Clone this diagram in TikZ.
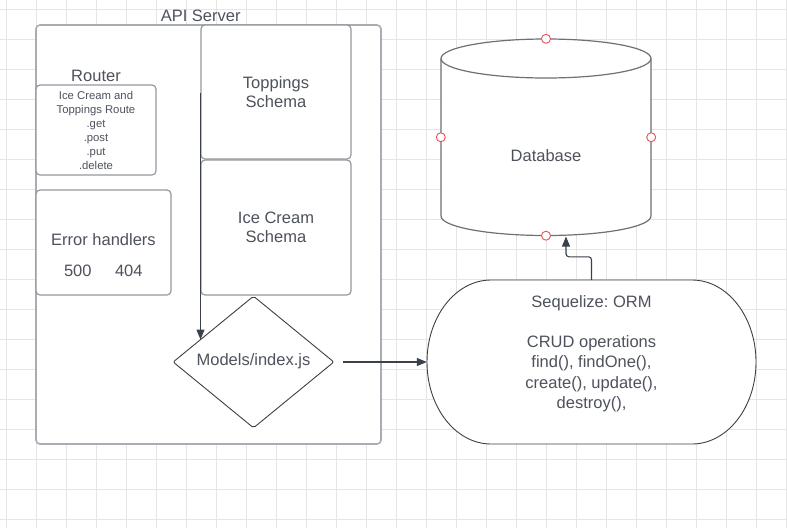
\documentclass[tikz,border=0pt]{standalone}
\usepackage{fontspec}
\setmainfont{Liberation Sans}
\frenchspacing
\usetikzlibrary{shapes.geometric,arrows.meta}
\definecolor{gridc}{RGB}{229,229,229}
\definecolor{textc}{RGB}{78,82,92}
\definecolor{boxc}{RGB}{150,152,160}
\definecolor{outerc}{RGB}{170,172,180}
\definecolor{darkc}{RGB}{62,64,70}
\definecolor{dbc}{RGB}{110,112,118}
\definecolor{arrc}{RGB}{58,64,76}
\definecolor{markc}{RGB}{232,80,92}
\begin{document}
\begin{tikzpicture}[x=1pt,y=-1pt,
  gridline/.style={draw=gridc, line width=0.9pt},
  container/.style={draw=outerc, line width=1.6pt, rounded corners=4pt, fill=white, inner sep=0pt},
  box/.style={draw=boxc, line width=1.2pt, rounded corners=4pt, fill=white, inner sep=0pt},
  txt/.style={text=textc, font=\fontsize{16.5}{19.4}\selectfont, align=center, inner sep=0pt},
  smalltxt/.style={text=textc, font=\fontsize{11.3}{14}\selectfont, align=center, inner sep=0pt},
  arr/.style={draw=arrc, line width=1.1pt, -{Triangle[length=10pt,width=8pt]}},
  shapeline/.style={draw=darkc, line width=0.9pt, fill=white},
  dbline/.style={draw=dbc, line width=1.2pt},
  marker/.style={shape=circle, draw=markc, fill=white, line width=0.9pt, minimum size=9pt, inner sep=0pt},
  ghost/.style={draw=none, inner sep=0pt}
]
\useasboundingbox (0,0) rectangle (787,528);
\fill[white] (0,0) rectangle (787,528);
% grid
\foreach \i in {0,...,26} \draw[gridline] (6.7+30*\i,0) -- (6.7+30*\i,528);
\foreach \j in {0,...,17} \draw[gridline] (0,9.3+30*\j) -- (787,9.3+30*\j);

% API server container
\node[container, minimum width=345pt, minimum height=419pt] (api) at (208.5,234.5) {};
\node[txt] (apilabel) at (200.7,16) {API Server};

% Router
\node[txt] (routerlabel) at (96,76) {Router};
\node[box, minimum width=120pt, minimum height=90pt] (router) at (96,130) {};
\node[smalltxt] (routertxt) at (96,130.3) {Ice Cream and\\Toppings Route\\.get\\.post\\.put\\.delete};

% Error handlers
\node[box, minimum width=135pt, minimum height=105pt] (err) at (103.5,242.5) {};
\node[txt] (errtitle) at (103.5,239.5) {Error handlers};
\node[txt] (errcodes) at (103.3,270.7) {500\hspace{23.5pt}404};

% Schemas
\node[box, minimum width=150pt, minimum height=134pt] (toppings) at (276,92) {};
\node[txt] at (toppings.center) {Toppings\\Schema};
\node[box, minimum width=150pt, minimum height=135pt] (icecream) at (276,227.5) {};
\node[txt] at (icecream.center) {Ice Cream\\Schema};

% Models diamond
\node[shape=diamond, shapeline, minimum width=161pt, minimum height=132pt, inner sep=0pt, rounded corners=2pt] (models) at (253.5,362) {};
\node[txt] at (253.5,361) {Models/index.js};

% arrow schemas -> models
\coordinate (a1s) at (200.5,93);
\coordinate (a1e) at (200.5,339.5);
\draw[arr] (a1s) -- (a1e);

% ORM stadium
\node[ghost, minimum width=329pt, minimum height=164pt] (orm) at (591.5,362) {};
\draw[shapeline] (491,280) -- (692,280)
  .. controls (727.3,280) and (756,316.7) .. (756,362)
  .. controls (756,407.3) and (727.3,444) .. (692,444)
  -- (491,444)
  .. controls (455.7,444) and (427,407.3) .. (427,362)
  .. controls (427,316.7) and (455.7,280) .. (491,280) -- cycle;
\node[txt, font=\fontsize{16.5}{20.3}\selectfont] (ormtxt) at (591.5,353.5) {Sequelize: ORM\\[20.3pt]CRUD operations\\find(), findOne(),\\create(), update(),\\destroy(),};

% arrow models -> ORM
\coordinate (a2s) at (343,362);
\draw[arr] (a2s) -- (orm.west);

% Database cylinder
\node[ghost, minimum width=210pt, minimum height=196.5pt] (db) at (546,137.25) {};
\fill[white] (441,58.5) -- (441,216)
  .. controls (441,226.8) and (488,235.5) .. (546,235.5)
  .. controls (604,235.5) and (651,226.8) .. (651,216) -- (651,58.5) -- cycle;
\draw[dbline] (441,58.5) -- (441,216)
  .. controls (441,226.8) and (488,235.5) .. (546,235.5)
  .. controls (604,235.5) and (651,226.8) .. (651,216) -- (651,58.5);
\draw[dbline, fill=white] (546,58.5) ellipse[x radius=105, y radius=19.5];
\node[txt] (dbtxt) at (546,155.5) {Database};
\node[marker] at (db.north) {};
\node[marker] at (db.west) {};
\node[marker] at (db.east) {};
\node[marker] at (db.south) {};

% arrow ORM -> database
\coordinate (dbin) at (566,236.5);
\draw[arr, rounded corners=3pt] (orm.north) -- ++(0,-23) -| (dbin);
\end{tikzpicture}
\end{document}
